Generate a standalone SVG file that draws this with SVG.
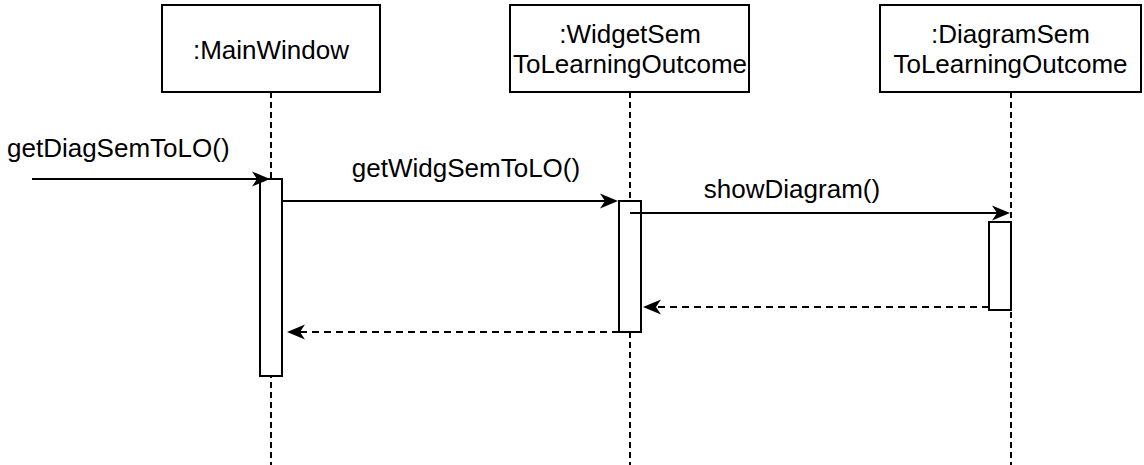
<svg xmlns="http://www.w3.org/2000/svg" width="1144" height="465" viewBox="0 0 1144 465">
  <style>
    .box { fill: #ffffff; stroke: #000000; stroke-width: 2; }
    .life { fill: none; stroke: #000000; stroke-width: 2; stroke-dasharray: 6 4; }
    .act { fill: #ffffff; stroke: #000000; stroke-width: 2; }
    .msg { fill: none; stroke: #000000; stroke-width: 2; marker-end: url(#head); }
    .ret { fill: none; stroke: #000000; stroke-width: 2; stroke-dasharray: 7 5; marker-end: url(#head); }
    text { font-family: "Liberation Sans", Arial, sans-serif; font-size: 26px; fill: #000000; }
    .c { text-anchor: middle; }
  </style>
  <defs>
    <!-- classic notched arrowhead; tip sits 4px past the line end -->
    <marker id="head" viewBox="-19 -9 20 18" refX="-4" refY="0" markerWidth="20" markerHeight="18" markerUnits="userSpaceOnUse" orient="auto">
      <path d="M0,0 L-18,-7.5 L-13,0 L-18,7.5 Z" fill="#000000" stroke="none"/>
    </marker>
  </defs>

  <rect width="1144" height="465" fill="#ffffff"/>

  <!-- lifelines -->
  <g id="lifelines">
    <line class="life" x1="271" y1="92" x2="271" y2="465"/>
    <line class="life" x1="630" y1="92" x2="630" y2="465"/>
    <line class="life" x1="1011" y1="92" x2="1011" y2="465"/>
  </g>

  <!-- participants -->
  <g id="mainwindow">
    <rect class="box" x="162" y="5" width="218" height="87"/>
    <text class="c" x="271" y="59">:MainWindow</text>
  </g>
  <g id="widgetsem">
    <rect class="box" x="510" y="5" width="239" height="87"/>
    <text class="c" x="630" y="43">:WidgetSem</text>
    <text class="c" x="630" y="73">ToLearningOutcome</text>
  </g>
  <g id="diagramsem">
    <rect class="box" x="880" y="5" width="261" height="87"/>
    <text class="c" x="1010.5" y="43">:DiagramSem</text>
    <text class="c" x="1010.5" y="73">ToLearningOutcome</text>
  </g>

  <!-- activation bars -->
  <g id="act-main">
    <rect class="act" x="260" y="179" width="22" height="197"/>
  </g>
  <g id="act-widget">
    <rect class="act" x="619" y="201" width="22" height="131"/>
  </g>
  <g id="act-diagram">
    <rect class="act" x="989" y="222" width="22" height="88"/>
  </g>

  <!-- messages -->
  <g id="connectors">
    <path class="msg" d="M32,179 H266"/>
    <path class="msg" d="M282,201 H614"/>
    <path class="msg" d="M630,213 H1006"/>
    <path class="ret" d="M989,307 H647"/>
    <path class="ret" d="M619,332 H291"/>
  </g>

  <!-- message labels -->
  <g id="labels">
    <text x="7" y="157">getDiagSemToLO()</text>
    <text class="c" x="466" y="177">getWidgSemToLO()</text>
    <text class="c" x="792" y="198">showDiagram()</text>
  </g>
</svg>
